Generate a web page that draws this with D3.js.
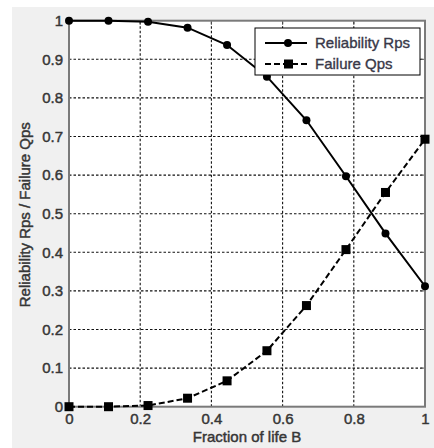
<!DOCTYPE html>
<html>
<head>
<meta charset="utf-8">
<script src="https://cdn.jsdelivr.net/npm/d3@7"></script>
<style>
  body { margin: 0; background: #fff; }
  svg text { font-family: "Liberation Sans", Arial, sans-serif; }
</style>
</head>
<body>
<div id="chart"></div>
<script>
const fractions = [0, 0.111, 0.222, 0.333, 0.444, 0.556, 0.667, 0.778, 0.889, 1];
const reliability = [1, 1, 0.997, 0.982, 0.937, 0.855, 0.742, 0.597, 0.449, 0.312];
const failure = [0, 0, 0.003, 0.022, 0.067, 0.145, 0.262, 0.407, 0.555, 0.693];
const xTicks = [0, 0.2, 0.4, 0.6, 0.8, 1];
const yTicks = [0, 0.1, 0.2, 0.3, 0.4, 0.5, 0.6, 0.7, 0.8, 0.9, 1];
const seriesNames = ['Reliability Rps', 'Failure Qps'];

const width = 434;
const height = 448;
const margin = {top: 20.7, right: 9, bottom: 41.3, left: 69};
const textColor = '#363636';

const svg = d3.select('#chart')
    .append('svg')
    .attr('width', width)
    .attr('height', height);

// figure background (grey, like a MATLAB window)
svg.append('rect')
    .attr('x', 12).attr('y', 7)
    .attr('width', width - 12).attr('height', height - 7)
    .attr('fill', '#f0f0f0');

const x = d3.scaleLinear()
    .domain([0, 1])
    .range([margin.left, width - margin.right]);

const y = d3.scaleLinear()
    .domain([0, 1])
    .range([height - margin.bottom, margin.top]);

// plot area
svg.append('rect')
    .attr('x', x(0)).attr('y', y(1))
    .attr('width', x(1) - x(0)).attr('height', y(0) - y(1))
    .attr('fill', '#fff');

// grid
const grid = svg.append('g')
    .attr('stroke', '#111')
    .attr('stroke-width', 1.1)
    .attr('stroke-dasharray', '2.5,2');

grid.selectAll('line.gx')
    .data(xTicks.slice(1, -1))
    .join('line')
        .attr('class', 'gx')
        .attr('x1', d => x(d)).attr('x2', d => x(d))
        .attr('y1', y(0)).attr('y2', y(1));

grid.selectAll('line.gy')
    .data(yTicks.slice(1, -1))
    .join('line')
        .attr('class', 'gy')
        .attr('x1', x(0)).attr('x2', x(1))
        .attr('y1', d => y(d)).attr('y2', d => y(d));

// axes
function xAxis(g) {
    g
    .attr('transform', `translate(0, ${y(0)})`)
    .call(d3.axisBottom(x).tickValues(xTicks).tickFormat(d3.format('~g')).tickSize(0).tickPadding(7))
    .call(g => g.select('.domain').remove())
    .attr('font-size', '15px')
    .attr('font-family', null);
}

function yAxis(g) {
    g
    .attr('transform', `translate(${x(0)}, 0)`)
    .call(d3.axisLeft(y).tickValues(yTicks).tickFormat(d3.format('~g')).tickSize(0).tickPadding(6))
    .call(g => g.select('.domain').remove())
    .attr('font-size', '15px')
    .attr('font-family', null);
}

svg.append('g').call(xAxis);
svg.append('g').call(yAxis);
svg.selectAll('.tick text')
    .attr('fill', textColor)
    .attr('stroke', textColor)
    .attr('stroke-width', 0.45);

// inner ticks on top and right
svg.append('g')
    .attr('stroke', '#555')
    .selectAll('line')
    .data(xTicks.slice(1, -1))
    .join('line')
        .attr('x1', d => x(d)).attr('x2', d => x(d))
        .attr('y1', y(1)).attr('y2', y(1) + 4);
svg.append('g')
    .attr('stroke', '#555')
    .selectAll('line')
    .data(yTicks.slice(1, -1))
    .join('line')
        .attr('x1', x(1)).attr('x2', x(1) - 4)
        .attr('y1', d => y(d)).attr('y2', d => y(d));

// box
svg.append('rect')
    .attr('x', x(0)).attr('y', y(1))
    .attr('width', x(1) - x(0)).attr('height', y(0) - y(1))
    .attr('fill', 'none')
    .attr('stroke', '#7a7a7a')
    .attr('stroke-width', 2);

// series
const relData = fractions.map((f, i) => [f, reliability[i]]);
const failData = fractions.map((f, i) => [f, failure[i]]);
const line = d3.line().x(d => x(d[0])).y(d => y(d[1]));

svg.append('path')
    .datum(relData)
    .attr('d', line)
    .attr('fill', 'none')
    .attr('stroke', '#000')
    .attr('stroke-width', 2);

svg.append('path')
    .datum(failData)
    .attr('d', line)
    .attr('fill', 'none')
    .attr('stroke', '#000')
    .attr('stroke-width', 2)
    .attr('stroke-dasharray', '6,3');

svg.append('g')
    .selectAll('circle')
    .data(relData)
    .join('circle')
        .attr('cx', d => x(d[0]))
        .attr('cy', d => y(d[1]))
        .attr('r', 4)
        .attr('fill', '#000');

svg.append('g')
    .selectAll('rect')
    .data(failData)
    .join('rect')
        .attr('x', d => x(d[0]) - 4.5)
        .attr('y', d => y(d[1]) - 4.5)
        .attr('width', 9)
        .attr('height', 9)
        .attr('fill', '#000');

// axis titles
svg.append('text')
    .attr('x', (x(0) + x(1)) / 2)
    .attr('y', 442)
    .attr('text-anchor', 'middle')
    .attr('font-size', '15px')
    .attr('fill', textColor)
    .attr('stroke', textColor)
    .attr('stroke-width', 0.45)
    .text('Fraction of life B');

svg.append('text')
    .attr('transform', `translate(30, ${(y(0) + y(1)) / 2 + 1}) rotate(-90)`)
    .attr('text-anchor', 'middle')
    .attr('font-size', '15px')
    .attr('fill', textColor)
    .attr('stroke', textColor)
    .attr('stroke-width', 0.45)
    .text('Reliability Rps / Failure Qps');

// legend
const legend = svg.append('g').attr('transform', 'translate(255, 28)');
legend.append('rect')
    .attr('width', 165).attr('height', 47)
    .attr('fill', '#fff')
    .attr('stroke', '#000')
    .attr('stroke-width', 1);

const items = legend.selectAll('g')
    .data(seriesNames)
    .join('g')
        .attr('transform', (d, i) => `translate(0, ${15 + i * 21})`);

items.append('line')
    .attr('x1', 10).attr('x2', 52)
    .attr('stroke', '#000')
    .attr('stroke-width', 2)
    .attr('stroke-dasharray', (d, i) => i ? '6,3' : null);

items.filter((d, i) => i === 0).append('circle')
    .attr('cx', 33).attr('r', 4).attr('fill', '#000');
items.filter((d, i) => i === 1).append('rect')
    .attr('x', 29).attr('y', -4.5).attr('width', 9).attr('height', 9).attr('fill', '#000');

items.append('text')
    .attr('x', 60)
    .attr('dy', '0.35em')
    .attr('font-size', '15px')
    .attr('fill', '#383848')
    .attr('stroke', '#383848')
    .attr('stroke-width', 0.35)
    .text(d => d);
</script>
</body>
</html>
